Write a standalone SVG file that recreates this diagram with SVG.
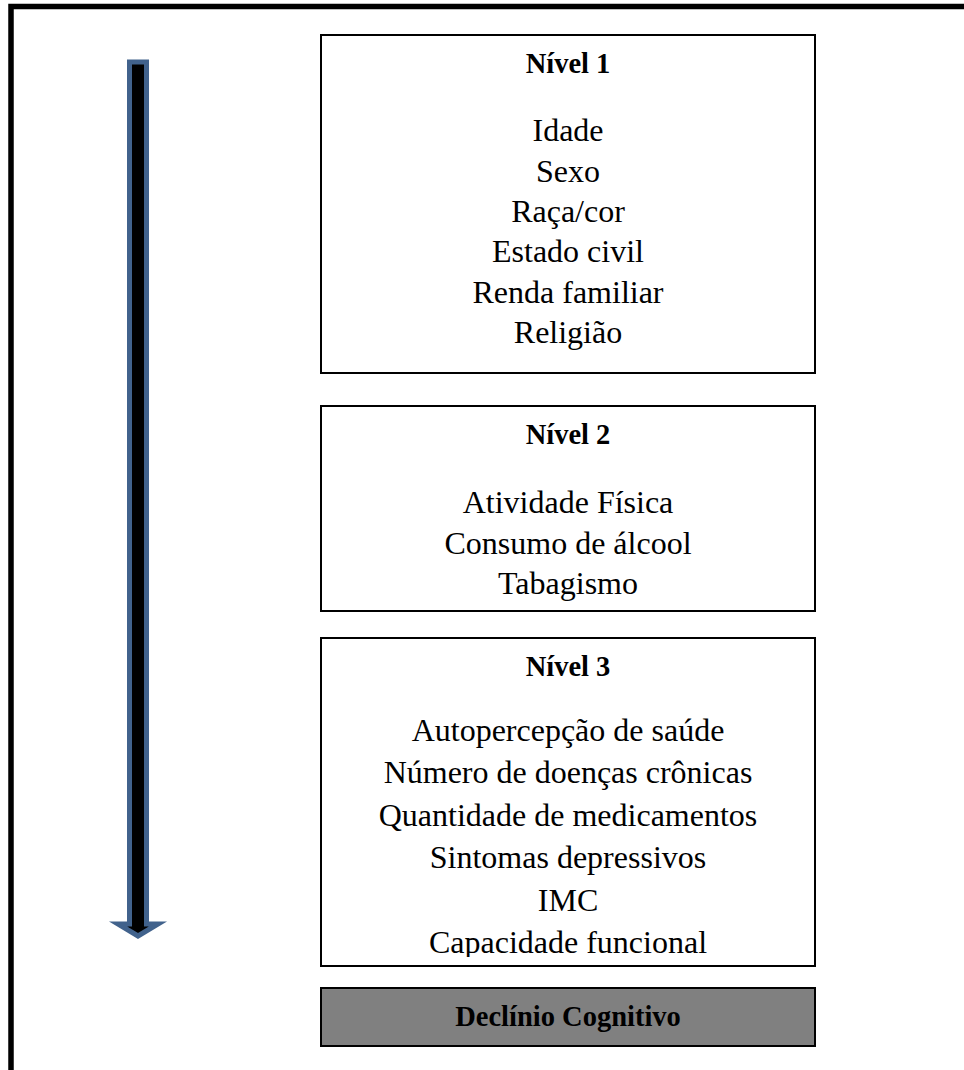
<svg xmlns="http://www.w3.org/2000/svg" width="964" height="1070" viewBox="0 0 964 1070">
<defs>
<style>
.box{fill:#ffffff;stroke:#000000;stroke-width:2}
.out{fill:#808080;stroke:#000000;stroke-width:2}
.h{font-family:"Liberation Serif","Times New Roman",serif;font-weight:bold;font-size:28.5px;fill:#000;text-anchor:middle}
.t{font-family:"Liberation Serif","Times New Roman",serif;font-size:32px;fill:#000;text-anchor:middle}
</style>
<clipPath id="c3"><rect x="320" y="637" width="496" height="320"/></clipPath>
</defs>
<rect width="964" height="1070" fill="#ffffff"/>
<path d="M11,1075 V6.5 H975" fill="none" stroke="#000" stroke-width="5.5"/>
<g id="connectors">
<path d="M129.5,62 H146.5 V924 H158 L138,936 L118,924 H129.5 Z" fill="#000" stroke="#41628C" stroke-width="5" stroke-linejoin="miter"/>
</g>
<g id="nivel1">
<rect class="box" x="321" y="35" width="494" height="338"/>
<text class="h" x="568" y="73">Nível 1</text>
<text class="t" x="568" y="141">Idade</text>
<text class="t" x="568" y="181.5">Sexo</text>
<text class="t" x="568" y="222">Raça/cor</text>
<text class="t" x="568" y="262">Estado civil</text>
<text class="t" x="568" y="303">Renda familiar</text>
<text class="t" x="568" y="343">Religião</text>
</g>
<g id="nivel2">
<rect class="box" x="321" y="406" width="494" height="205"/>
<text class="h" x="568" y="444">Nível 2</text>
<text class="t" x="568" y="513">Atividade Física</text>
<text class="t" x="568" y="554">Consumo de álcool</text>
<text class="t" x="568" y="594">Tabagismo</text>
</g>
<g id="nivel3">
<rect class="box" x="321" y="638" width="494" height="328"/>
<text class="h" x="568" y="676">Nível 3</text>
<g clip-path="url(#c3)">
<text class="t" x="568" y="741">Autopercepção de saúde</text>
<text class="t" x="568" y="783">Número de doenças crônicas</text>
<text class="t" x="568" y="825.5">Quantidade de medicamentos</text>
<text class="t" x="568" y="868">Sintomas depressivos</text>
<text class="t" x="568" y="910.5">IMC</text>
<text class="t" x="568" y="953">Capacidade funcional</text>
</g>
</g>
<g id="declinio">
<rect class="out" x="321" y="988" width="494" height="58"/>
<text class="h" x="568" y="1026">Declínio Cognitivo</text>
</g>
</svg>
